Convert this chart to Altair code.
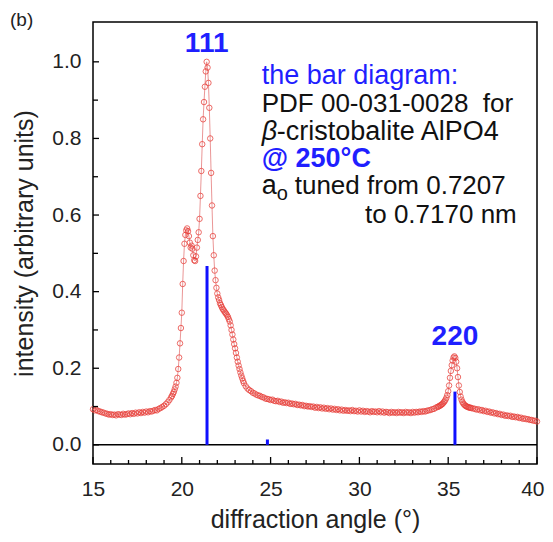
import altair as alt
import numpy as np
import pandas as pd

# ---------------- data ----------------
# measured pattern, in segments (start angle, step, intensities)
segA_start, segA_step = 15.0, 0.1
segA = [0.093, 0.090, 0.091, 0.088, 0.087, 0.085, 0.084, 0.082, 0.081, 0.079,
        0.080, 0.078, 0.079, 0.077, 0.080, 0.079, 0.078, 0.081, 0.079, 0.080,
        0.082, 0.080, 0.083, 0.081, 0.084, 0.082, 0.085, 0.083, 0.086, 0.084,
        0.087, 0.085, 0.088, 0.087, 0.089, 0.091, 0.090, 0.094, 0.096, 0.099,
        0.102, 0.106, 0.111, 0.117, 0.124]
segB_start, segB_step = 19.45, 0.05
segB = [0.128, 0.133, 0.138, 0.145, 0.152, 0.162, 0.175, 0.198, 0.228, 0.265, 0.305,
        0.345, 0.420, 0.480, 0.525, 0.548, 0.560, 0.565, 0.558, 0.545, 0.528,
        0.515, 0.520, 0.512, 0.495, 0.482, 0.480, 0.492, 0.515, 0.535, 0.555,
        0.590, 0.650, 0.715, 0.785, 0.850, 0.895, 0.935, 0.975, 1.000, 0.985,
        0.945, 0.880, 0.800, 0.710, 0.625, 0.545, 0.495, 0.455, 0.430, 0.410,
        0.395, 0.385, 0.378, 0.370, 0.365, 0.360, 0.355, 0.352, 0.348, 0.345,
        0.342, 0.338, 0.334, 0.328, 0.322, 0.312, 0.300, 0.288, 0.275, 0.263,
        0.252, 0.240, 0.228, 0.217, 0.207, 0.198, 0.189, 0.181, 0.174, 0.167, 0.161]
segC_start, segC_step = 23.6, 0.1
segC = [0.153, 0.147, 0.143, 0.140,
        0.136, 0.134, 0.131, 0.129, 0.128, 0.125, 0.124, 0.121, 0.120, 0.119,
        0.117, 0.118, 0.115, 0.114, 0.115, 0.112, 0.113, 0.110, 0.111, 0.109,
        0.110, 0.107, 0.108, 0.106, 0.107, 0.104, 0.105, 0.103, 0.104, 0.101,
        0.102, 0.100, 0.101, 0.099, 0.100, 0.097, 0.099, 0.096, 0.098, 0.095,
        0.097, 0.094, 0.096, 0.093, 0.095, 0.092, 0.094, 0.091, 0.093, 0.090,
        0.092, 0.089, 0.091, 0.089, 0.090, 0.088, 0.091, 0.088, 0.089, 0.087,
        0.090, 0.087, 0.089, 0.086, 0.088, 0.087, 0.085, 0.088, 0.086, 0.087,
        0.085, 0.088, 0.085, 0.087, 0.084, 0.086, 0.085, 0.083, 0.086, 0.084,
        0.085, 0.083, 0.086, 0.084, 0.085, 0.083, 0.086, 0.084, 0.085, 0.083,
        0.086, 0.084, 0.086, 0.085, 0.087, 0.086, 0.088, 0.087, 0.089, 0.090,
        0.091, 0.093, 0.094, 0.097, 0.099]
segD_start, segD_step = 34.45, 0.05
segD = [0.100, 0.101, 0.103, 0.104, 0.106, 0.108, 0.111, 0.114, 0.118, 0.123, 0.130,
        0.140, 0.155, 0.175, 0.193, 0.208, 0.220, 0.228, 0.231, 0.227, 0.217,
        0.200, 0.177, 0.155, 0.138, 0.126, 0.118, 0.112, 0.108, 0.105, 0.103,
        0.101, 0.100, 0.099, 0.098, 0.097, 0.097, 0.096]
segE_start, segE_step = 36.4, 0.1
segE = [0.095, 0.094, 0.092, 0.093, 0.090, 0.091,
        0.088, 0.089, 0.086, 0.087, 0.084, 0.085, 0.082, 0.083, 0.080, 0.081,
        0.078, 0.079, 0.076, 0.077, 0.075, 0.076, 0.073, 0.074, 0.072, 0.073,
        0.070, 0.071, 0.068, 0.069, 0.067, 0.067, 0.065, 0.065, 0.063, 0.063,
        0.061]

# PDF 00-031-0028 bar diagram
bar_angle = [21.42, 24.82, 35.38]
bar_height = [0.467, 0.014, 0.139]

peak_labels = ["111", "220"]
peak_label_angle = [21.4, 35.38]
peak_label_y = [1.046, 0.282]

x_major = [15, 20, 25, 30, 35, 40]
x_minor = [16, 17, 18, 19, 21, 22, 23, 24, 26, 27, 28, 29, 31, 32, 33, 34, 36, 37, 38, 39]
y_major = [0.0, 0.2, 0.4, 0.6, 0.8, 1.0]
y_minor = [0.1, 0.3, 0.5, 0.7, 0.9]

# ---------------- build table ----------------
angles, vals = [], []
for s, st, seg in [(segA_start, segA_step, segA), (segB_start, segB_step, segB),
                   (segC_start, segC_step, segC), (segD_start, segD_step, segD),
                   (segE_start, segE_step, segE)]:
    for i, v in enumerate(seg):
        angles.append(round(s + st * i, 3))
        vals.append(v)
df = pd.DataFrame({"angle": angles, "intensity": vals})
bars = pd.DataFrame({"angle": bar_angle, "h": bar_height, "z": [0.0] * 3})
peaks = pd.DataFrame({"angle": peak_label_angle, "y": peak_label_y, "t": peak_labels})

FONT = "Liberation Sans"
BLUE = "#1f1fff"
xs = alt.Scale(domain=[15, 40], nice=False, zero=False, padding=0)
ys = alt.Scale(domain=[-0.05, 1.104], nice=False, zero=False, padding=0)

W, H = 444, 442

X = alt.X("angle:Q", scale=xs,
          axis=alt.Axis(values=x_major, tickSize=0, domain=False, grid=False,
                        labelFlush=False,
                        labelAlign={"condition": {"test": "datum.value >= 40", "value": "right"},
                                    "value": "center"},
                        labelOffset={"condition": {"test": "datum.value >= 40", "value": 7},
                                     "value": 0},
                        labelFontSize=21, labelFont=FONT, labelColor="#222",
                        labelPadding=14, title="diffraction angle (°)",
                        titleFont=FONT, titleFontSize=25, titleFontWeight="normal",
                        titleColor="#222", titlePadding=8))
Y = alt.Y("intensity:Q", scale=ys,
          axis=alt.Axis(values=y_major, format=".1f", tickSize=0, domain=False,
                        grid=False, labelFlush=False, labelFontSize=21, labelFont=FONT,
                        labelColor="#222", labelPadding=12,
                        title="intensity (arbitrary units)", titleFont=FONT,
                        titleFontSize=25, titleFontWeight="normal",
                        titleColor="#222", titlePadding=14))

line = alt.Chart(df).mark_line(color="#e88a8a", strokeWidth=0.9).encode(x=X, y=Y)
pts = alt.Chart(df).mark_point(shape="circle", filled=False, color="#e8403a",
                               size=30, strokeWidth=0.9, opacity=0.85).encode(
    x=alt.X("angle:Q", scale=xs), y=alt.Y("intensity:Q", scale=ys))

zero = alt.Chart(pd.DataFrame({"v": [0.0]})).mark_rule(
    color="black", strokeWidth=1.5).encode(y=alt.Y("v:Q", scale=ys))

barm = alt.Chart(bars).mark_rule(color="#1010ff", strokeWidth=3).encode(
    x=alt.X("angle:Q", scale=xs), y=alt.Y("z:Q", scale=ys), y2="h:Q")

ytm = alt.Chart(pd.DataFrame({"v": y_major})).mark_rule(color="black", strokeWidth=1.3).encode(
    y=alt.Y("v:Q", scale=ys), x=alt.value(0), x2=alt.value(6))
ytn = alt.Chart(pd.DataFrame({"v": y_minor})).mark_rule(color="black", strokeWidth=1.3).encode(
    y=alt.Y("v:Q", scale=ys), x=alt.value(0), x2=alt.value(5))
xtm = alt.Chart(pd.DataFrame({"v": x_major})).mark_rule(color="black", strokeWidth=1.3).encode(
    x=alt.X("v:Q", scale=xs), y=alt.value(H), y2=alt.value(H - 7))
xtn = alt.Chart(pd.DataFrame({"v": x_minor})).mark_rule(color="black", strokeWidth=1.3).encode(
    x=alt.X("v:Q", scale=xs), y=alt.value(H), y2=alt.value(H - 4))

peak_txt = alt.Chart(peaks).mark_text(font=FONT, fontSize=28, fontWeight="bold",
                                      color=BLUE, baseline="middle", align="center").encode(
    x=alt.X("angle:Q", scale=xs), y=alt.Y("y:Q", scale=ys), text="t:N")

# annotation block: (text, angle, intensity, size, weight, colour, align, style, dx, dy)
notes = [
    ("the bar diagram:", 24.5, 0.942, 27, "normal", BLUE, "left", "normal", 0, 0),
    ("PDF 00-031-0028\u00a0\u00a0for", 24.5, 0.869, 26, "normal", "#111", "left", "normal", 0, 0),
    ("β", 24.5, 0.796, 27, "normal", "#111", "left", "italic", 0, 0),
    ("-cristobalite AlPO4", 24.5, 0.796, 27, "normal", "#111", "left", "normal", 15, 0),
    ("@ 250°C", 24.5, 0.725, 27, "bold", BLUE, "left", "normal", 0, 0),
    ("a", 24.5, 0.654, 27, "normal", "#111", "left", "normal", 0, 0),
    ("o", 24.5, 0.654, 20, "normal", "#111", "left", "normal", 15, 6),
    ("tuned from 0.7207", 24.5, 0.654, 26, "normal", "#111", "left", "normal", 33, 0),
    ("to 0.7170 nm", 38.86, 0.578, 26, "normal", "#111", "right", "normal", 0, 0),
]
note_layers = []
for t, a, yv, fs, fw, c, al, st, dx, dy in notes:
    note_layers.append(
        alt.Chart(pd.DataFrame({"angle": [a], "y": [yv], "t": [t]})).mark_text(
            font=FONT, fontSize=fs, fontWeight=fw, color=c, align=al,
            baseline="alphabetic", fontStyle=st, dx=dx, dy=dy).encode(
            x=alt.X("angle:Q", scale=xs), y=alt.Y("y:Q", scale=ys), text="t:N"))

blabel = alt.Chart(pd.DataFrame({"angle": [15.0], "y": [1.104], "t": ["(b)"]})).mark_text(
    font=FONT, fontSize=19, color="#222", align="left", baseline="middle", dx=-83, dy=-2).encode(
    x=alt.X("angle:Q", scale=xs), y=alt.Y("y:Q", scale=ys), text="t:N")

chart = alt.layer(line, pts, zero, barm, ytm, ytn, xtm, xtn, peak_txt, blabel,
                  *note_layers).properties(
    width=W, height=H,
    autosize=alt.AutoSizeParams(type="none"),
    padding={"left": 85, "top": 14, "right": 8, "bottom": 70},
    background="white",
).configure_view(stroke="black", strokeWidth=1.5)

chart.save("out.html", embed_options={"renderer": "svg", "actions": False})
